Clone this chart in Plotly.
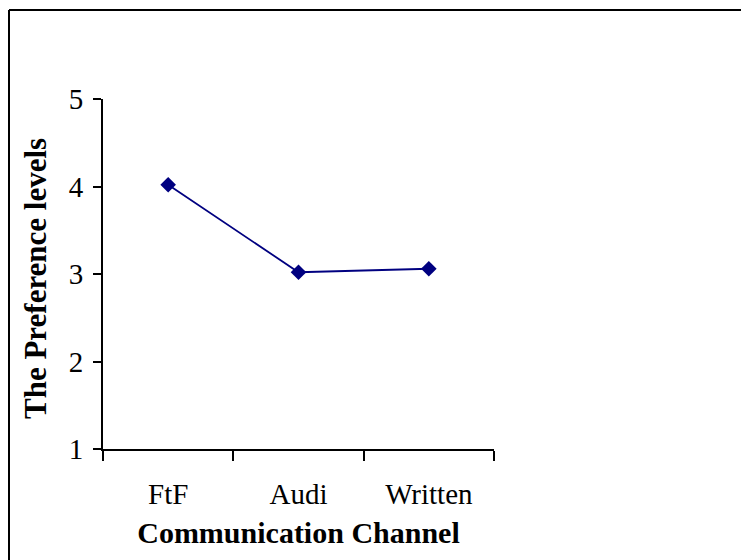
import plotly.graph_objects as go

categories = ["FtF", "Audi", "Written"]
preference = [4.02, 3.02, 3.06]
y_ticks = [1, 2, 3, 4, 5]

W, H = 741, 560
L, R, T, B = 103, 247, 99, 111
pw, ph = W - L - R, H - T - B

fig = go.Figure()
fig.add_trace(go.Scatter(
    x=categories, y=preference, mode="lines+markers",
    line=dict(color="#000080", width=1.8),
    marker=dict(symbol="diamond", size=12, color="#000080"),
    showlegend=False,
))

font_family = "Liberation Serif, Times New Roman, serif"

fig.update_layout(
    width=W, height=H,
    margin=dict(l=L, r=R, t=T, b=B, pad=0),
    paper_bgcolor="white", plot_bgcolor="white",
    font=dict(family=font_family, color="black", size=30),
    xaxis=dict(
        type="category", range=[-0.5, 2.5],
        showline=True, linecolor="black", linewidth=2,
        ticks="outside", ticklen=10, tickwidth=2, tickcolor="black",
        tickson="boundaries", showgrid=False, zeroline=False,
        tickfont=dict(size=29), ticklabelstandoff=18,
        title=dict(text="<b>Communication Channel</b>", font=dict(size=30), standoff=13),
    ),
    yaxis=dict(
        range=[1, 5], tickvals=y_ticks,
        showline=True, linecolor="black", linewidth=2,
        ticks="outside", ticklen=8, tickwidth=2, tickcolor="black",
        showgrid=False, zeroline=False,
        tickfont=dict(size=29), ticklabelstandoff=4,
    ),
)

# y-axis title as rotated annotation (slightly below the plot centre, as in the reference)
fig.add_annotation(
    text="<b>The Preference levels</b>", textangle=-90, showarrow=False,
    xref="paper", yref="paper",
    x=(35 - L) / pw, y=1 - (279 - T) / ph,
    xanchor="center", yanchor="middle",
    font=dict(size=31, family=font_family, color="black"),
)

# outer border (left and top visible, cropped on right/bottom)
x0 = (9 - L) / pw
y1 = 1 + (T - 10) / ph
fig.add_shape(type="line", xref="paper", yref="paper", x0=x0, x1=x0, y0=-1, y1=y1,
              line=dict(color="black", width=2))
fig.add_shape(type="line", xref="paper", yref="paper", x0=x0, x1=3, y0=y1, y1=y1,
              line=dict(color="black", width=2))

fig.write_html("out.html", config={"displayModeBar": False},
               post_script="document.body.style.margin='0';")
